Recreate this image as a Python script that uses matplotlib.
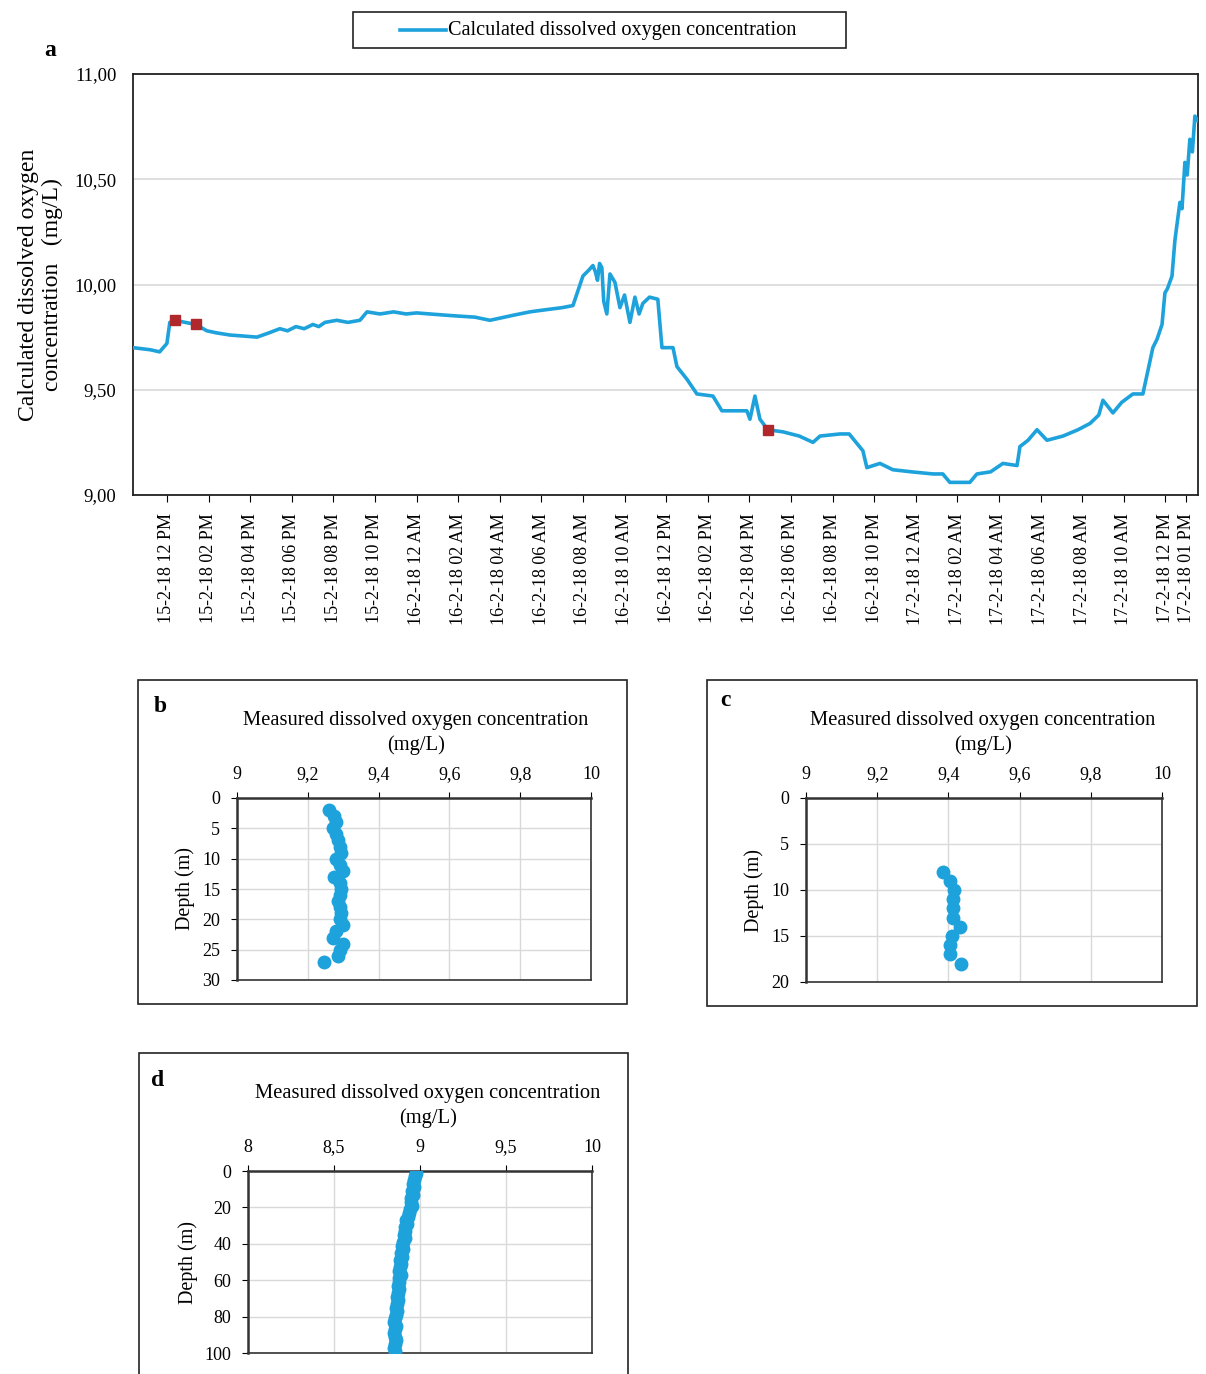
import matplotlib
matplotlib.use("Agg")
import matplotlib.pyplot as plt
from matplotlib.patches import Rectangle
from matplotlib.lines import Line2D
from matplotlib.ticker import FuncFormatter

plt.rcParams['font.family'] = ['Liberation Serif', 'DejaVu Serif']

# ---------------- data ----------------
# hours relative to 15-2-18 12 PM
hours = [-1.63, -0.8, -0.35, 0.0, 0.14, 0.38, 1.39, 1.92, 2.4, 3.03, 3.7, 4.33, 4.9, 5.43, 5.8, 6.2,
         6.6, 7.02, 7.3, 7.6, 8.17, 8.7, 9.28, 9.62, 10.24, 10.9, 11.5, 12.0, 12.64, 13.3, 14.0, 14.8,
         15.53, 16.0, 16.7, 17.45, 18.2, 19.0, 19.52, 20.0, 20.3, 20.48, 20.6, 20.7, 20.8, 20.91, 21.0,
         21.15, 21.3, 21.54, 21.78, 22.0, 22.26, 22.5, 22.7, 22.88, 23.2, 23.6, 23.8, 24.33, 24.52, 25.0,
         25.48, 26.25, 26.68, 27.3, 27.88, 28.03, 28.27, 28.51, 28.89, 29.62, 30.4, 31.06, 31.4, 32.36,
         32.8, 33.46, 33.65, 34.28, 34.9, 35.8, 36.83, 37.3, 37.64, 38.6, 38.94, 39.6, 40.19, 40.87,
         41.01, 41.4, 41.83, 42.31, 43.08, 43.8, 44.38, 44.8, 45.0, 45.48, 45.9, 46.44, 46.92, 47.16,
         47.4, 47.6, 47.84, 47.98, 48.1, 48.32, 48.46, 48.7, 48.8, 48.94, 49.05, 49.18, 49.3, 49.42,
         49.55]
oxygen = [9.70, 9.69, 9.68, 9.72, 9.82, 9.83, 9.81, 9.78, 9.77, 9.76, 9.755, 9.75, 9.77, 9.79, 9.78,
          9.80, 9.79, 9.81, 9.80, 9.82, 9.83, 9.82, 9.83, 9.87, 9.86, 9.87, 9.86, 9.865, 9.86, 9.855,
          9.85, 9.845, 9.83, 9.84, 9.855, 9.87, 9.88, 9.89, 9.90, 10.04, 10.07, 10.09, 10.06, 10.02,
          10.1, 10.08, 9.92, 9.86, 10.05, 10.01, 9.89, 9.95, 9.82, 9.94, 9.86, 9.91, 9.94, 9.93, 9.70,
          9.70, 9.61, 9.55, 9.48, 9.47, 9.40, 9.40, 9.40, 9.36, 9.47, 9.36, 9.31, 9.30, 9.28, 9.25,
          9.28, 9.29, 9.29, 9.21, 9.13, 9.15, 9.12, 9.11, 9.10, 9.10, 9.06, 9.06, 9.10, 9.11, 9.15,
          9.14, 9.23, 9.26, 9.31, 9.26, 9.28, 9.31, 9.34, 9.38, 9.45, 9.39, 9.44, 9.48, 9.48, 9.59,
          9.70, 9.74, 9.81, 9.96, 9.98, 10.04, 10.21, 10.39, 10.36, 10.58, 10.52, 10.69, 10.63, 10.80,
          10.78]
marker_hours = [0.38, 1.39, 28.89]
marker_oxygen = [9.83, 9.81, 9.31]
tick_hours = [0, 2, 4, 6, 8, 10, 12, 14, 16, 18, 20, 22, 24, 26, 28, 30, 32, 34, 36, 38, 40, 42, 44, 46, 48, 49]
tick_labels = ["15-2-18 12 PM", "15-2-18 02 PM", "15-2-18 04 PM", "15-2-18 06 PM", "15-2-18 08 PM",
               "15-2-18 10 PM", "16-2-18 12 AM", "16-2-18 02 AM", "16-2-18 04 AM", "16-2-18 06 AM",
               "16-2-18 08 AM", "16-2-18 10 AM", "16-2-18 12 PM", "16-2-18 02 PM", "16-2-18 04 PM",
               "16-2-18 06 PM", "16-2-18 08 PM", "16-2-18 10 PM", "17-2-18 12 AM", "17-2-18 02 AM",
               "17-2-18 04 AM", "17-2-18 06 AM", "17-2-18 08 AM", "17-2-18 10 AM", "17-2-18 12 PM",
               "17-2-18 01 PM"]

b_depth = list(range(2, 28))
b_do = [9.26, 9.275, 9.28, 9.27, 9.28, 9.285, 9.29, 9.295, 9.28, 9.29, 9.30, 9.275, 9.29, 9.295,
        9.29, 9.285, 9.29, 9.295, 9.29, 9.30, 9.28, 9.27, 9.30, 9.29, 9.285, 9.245]

c_depth = list(range(8, 19))
c_do = [9.385, 9.405, 9.417, 9.414, 9.414, 9.412, 9.433, 9.41, 9.405, 9.405, 9.435]

d_depth = list(range(1, 100, 2))
d_do = [8.975, 8.97, 8.965, 8.96, 8.965, 8.955, 8.96, 8.945, 8.95, 8.955, 8.94, 8.935, 8.93, 8.92,
        8.925, 8.91, 8.915, 8.905, 8.91, 8.90, 8.895, 8.90, 8.89, 8.895, 8.885, 8.89, 8.885, 8.88,
        8.89, 8.88, 8.875, 8.87, 8.88, 8.87, 8.865, 8.87, 8.865, 8.86, 8.865, 8.86, 8.855, 8.85,
        8.86, 8.855, 8.85, 8.855, 8.86, 8.855, 8.85, 8.855]

BLUE = '#1ea2dc'
RED = '#b0272c'
GRID = '#d9d9d9'

W, H = 1206, 1374
fig = plt.figure(figsize=(W / 100, H / 100), dpi=100)


def fr(x0, y0, x1, y1):
    return [x0 / W, 1 - y1 / H, (x1 - x0) / W, (y1 - y0) / H]


def comma(v, pos=None, fmt="{:g}"):
    return fmt.format(v).replace('.', ',')


# ---------------- panel a ----------------
ax = fig.add_axes(fr(133, 74, 1198, 495))
ax.plot(hours, oxygen, color=BLUE, lw=2.6, zorder=3)
ax.plot(marker_hours, marker_oxygen, ls='none', marker='s', ms=7, color=RED, zorder=4)
ax.set_xlim(-1.63, 49.57)
ax.set_ylim(9.0, 11.0)
ax.set_yticks([9.0, 9.5, 10.0, 10.5, 11.0])
ax.yaxis.set_major_formatter(FuncFormatter(lambda v, p: "{:.2f}".format(v).replace('.', ',')))
ax.yaxis.grid(True, color=GRID, lw=1.2)
ax.set_axisbelow(True)
ax.set_xticks(tick_hours)
ax.set_xticklabels(tick_labels, rotation=90, fontsize=13)
ax.tick_params(axis='x', direction='out', length=5, pad=8)
ax.tick_params(axis='y', length=0, labelsize=13.5, pad=12)
for s in ax.spines.values():
    s.set_color('#222222')
    s.set_linewidth(1.3)
ax.set_ylabel("Calculated dissolved oxygen\nconcentration   (mg/L)", fontsize=17, labelpad=8,
              linespacing=1.2)
fig.text(50 / W, 1 - 50 / H, "a", fontsize=17, fontweight='bold', ha='center', va='center')

# legend box
fig.patches.append(Rectangle((353 / W, 1 - 48 / H), (846 - 353) / W, 36 / H, transform=fig.transFigure,
                             fill=False, edgecolor='#222222', lw=1.2))
fig.lines.append(Line2D([400 / W, 446 / W], [1 - 30 / H, 1 - 30 / H], transform=fig.transFigure,
                        color=BLUE, lw=2.6))
fig.text(448 / W, 1 - 30 / H, "Calculated dissolved oxygen concentration", fontsize=14.6,
         ha='left', va='center')


# ---------------- panels b, c, d ----------------
def profile(box, rect, letter, letter_xy, title_xy, depth, do, xlim, xticks, ylim, yticks):
    bx0, by0, bx1, by1 = box
    fig.patches.append(Rectangle((bx0 / W, 1 - by1 / H), (bx1 - bx0) / W, (by1 - by0) / H,
                                 transform=fig.transFigure, fill=False, edgecolor='#222222', lw=1.2))
    a = fig.add_axes(fr(*rect))
    a.plot(do, depth, ls='none', marker='o', ms=9, color=BLUE, zorder=3)
    a.set_xlim(*xlim)
    a.set_ylim(ylim[1], ylim[0])
    a.set_xticks(xticks)
    a.set_yticks(yticks)
    a.xaxis.set_major_formatter(FuncFormatter(lambda v, p: comma(round(v, 2))))
    a.xaxis.tick_top()
    a.grid(True, color=GRID, lw=1.0)
    a.set_axisbelow(True)
    a.tick_params(axis='x', direction='out', length=4, labelsize=13, pad=7)
    a.tick_params(axis='y', direction='out', length=4, labelsize=13, pad=8)
    for k, s in a.spines.items():
        s.set_color('#333333')
        s.set_linewidth(1.8 if k in ('top', 'left') else 1.2)
    a.set_ylabel("Depth (m)", fontsize=14.5, labelpad=5)
    fig.text(letter_xy[0] / W, 1 - letter_xy[1] / H, letter, fontsize=17, fontweight='bold',
             ha='center', va='center')
    fig.text(title_xy[0] / W, 1 - title_xy[1] / H,
             "Measured dissolved oxygen concentration\n(mg/L)", fontsize=14.8, ha='center',
             va='center', linespacing=1.3)
    return a


profile((138, 680, 627, 1004), (237, 798, 591, 980), "b", (160, 707), (416, 733),
        b_depth, b_do, (9, 10), [9, 9.2, 9.4, 9.6, 9.8, 10], (0, 30), [0, 5, 10, 15, 20, 25, 30])
profile((707, 680, 1197, 1006), (806, 798, 1162, 982), "c", (725, 700), (983, 733),
        c_depth, c_do, (9, 10), [9, 9.2, 9.4, 9.6, 9.8, 10], (0, 20), [0, 5, 10, 15, 20])
profile((139, 1053, 628, 1420), (248, 1171, 592, 1353), "d", (158, 1080), (428, 1106),
        d_depth, d_do, (8, 10), [8, 8.5, 9, 9.5, 10], (0, 100), [0, 20, 40, 60, 80, 100])

fig.savefig("out.png", dpi=100, facecolor='white')
